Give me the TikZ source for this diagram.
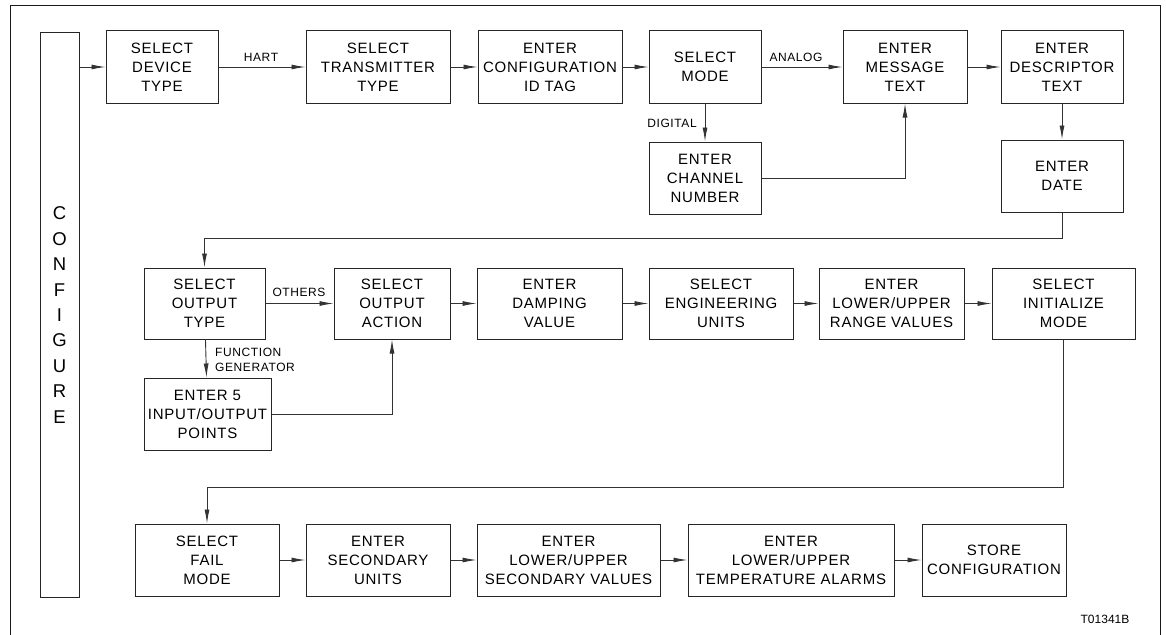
\documentclass[tikz,border=0pt]{standalone}
\usepackage{fontspec}
\setmainfont{Liberation Sans}
\newfontfamily\boxfont[LetterSpace=5]{Liberation Sans}
\usetikzlibrary{arrows.meta}

\begin{document}
\begin{tikzpicture}[x=1pt,y=-1pt,
  stepbox/.style={draw=black!85, line width=1pt, inner sep=0pt, align=center,
    minimum height=72, font={\boxfont\fontsize{15}{19}\selectfont}},
  flow/.style={draw=black!80, line width=0.9pt, -{Latex[length=14pt,width=5pt]}},
  tag/.style={inner sep=0pt, font={\boxfont\fontsize{12}{15.5}\selectfont}}]
\useasboundingbox (0,0) rectangle (1166,634);
\draw[black!90, line width=0.8pt] (10,5) rectangle (1160,640);

% configure bar
\node[stepbox, minimum width=39, minimum height=565, font={\fontsize{18.5}{25.4}\selectfont}] (conf) at (59.5,315) {C\\O\\N\\F\\I\\G\\U\\R\\E};

% first row
\node[stepbox, minimum width=112] (dev) at (162,67) {SELECT\\DEVICE\\TYPE};
\node[stepbox, minimum width=144] (xmtr) at (378,67) {SELECT\\TRANSMITTER\\TYPE};
\node[stepbox, minimum width=144] (cfgtag) at (550,67) {ENTER\\CONFIGURATION\\ID TAG};
\node[stepbox, minimum width=112] (mode) at (705,67) {SELECT\\MODE};
\node[stepbox, minimum width=124] (msg) at (905,67) {ENTER\\MESSAGE\\TEXT};
\node[stepbox, minimum width=122] (desc) at (1062,67) {ENTER\\DESCRIPTOR\\TEXT};
\node[stepbox, minimum width=112] (chan) at (705,178) {ENTER\\CHANNEL\\NUMBER};
\node[stepbox, minimum width=122] (date) at (1062,176) {ENTER\\DATE};

% second row
\node[stepbox, minimum width=121, minimum height=71] (otype) at (204.5,303.5) {SELECT\\OUTPUT\\TYPE};
\node[stepbox, minimum width=116, minimum height=71] (oact) at (392,303.5) {SELECT\\OUTPUT\\ACTION};
\node[stepbox, minimum width=145, minimum height=71] (damp) at (549.5,303.5) {ENTER\\DAMPING\\VALUE};
\node[stepbox, minimum width=144, minimum height=71] (eng) at (721,303.5) {SELECT\\ENGINEERING\\UNITS};
\node[stepbox, minimum width=145, minimum height=71] (range) at (891.5,303.5) {ENTER\\LOWER/UPPER\\RANGE VALUES};
\node[stepbox, minimum width=143, minimum height=71] (init) at (1063.5,303.5) {SELECT\\INITIALIZE\\MODE};
\node[stepbox, minimum width=127] (pts) at (207.5,414) {ENTER 5\\INPUT/OUTPUT\\POINTS};

% third row
\node[stepbox, minimum width=144] (fail) at (207,560) {SELECT\\FAIL\\MODE};
\node[stepbox, minimum width=144] (sunits) at (378,560) {ENTER\\SECONDARY\\UNITS};
\node[stepbox, minimum width=183] (svals) at (568.5,560) {ENTER\\LOWER/UPPER\\SECONDARY VALUES};
\node[stepbox, minimum width=206] (alarms) at (791,560) {ENTER\\LOWER/UPPER\\TEMPERATURE ALARMS};
\node[stepbox, minimum width=144] (store) at (994,560) {STORE\\CONFIGURATION};

% branch labels
\node[tag] (hart) at (261,57) {HART};
\node[tag] (analog) at (796,57) {ANALOG};
\node[tag] (digital) at (672,123) {DIGITAL};
\node[tag] (others) at (299,292) {OTHERS};
\node[tag, anchor=west, align=left] (fgen) at (215,360) {FUNCTION\\GENERATOR};
\node[tag, font={\fontsize{12}{14}\selectfont}] (code) at (1105,619) {T01341B};

% connectors
\draw[flow] (conf.east |- dev.west) -- (dev.west);
\draw[flow] (dev) -- (xmtr);
\draw[flow] (xmtr) -- (cfgtag);
\draw[flow] (cfgtag) -- (mode);
\draw[flow] (mode) -- (msg);
\draw[flow] (msg) -- (desc);
\draw[flow] (mode) -- (chan);
\draw[flow] (chan.east) -| (msg.south);
\draw[flow] (desc) -- (date);
\draw[flow] (date.south) -- ++(0,26) -| (otype.north);
\draw[flow] (otype) -- (oact);
\draw[flow] (otype) -- (pts);
\draw[flow] (pts.east) -| (oact.south);
\draw[flow] (oact) -- (damp);
\draw[flow] (damp) -- (eng);
\draw[flow] (eng) -- (range);
\draw[flow] (range) -- (init);
\draw[flow] (init.south) -- ++(0,148) -| (fail.north);
\draw[flow] (fail) -- (sunits);
\draw[flow] (sunits) -- (svals);
\draw[flow] (svals) -- (alarms);
\draw[flow] (alarms) -- (store);
\end{tikzpicture}
\end{document}
